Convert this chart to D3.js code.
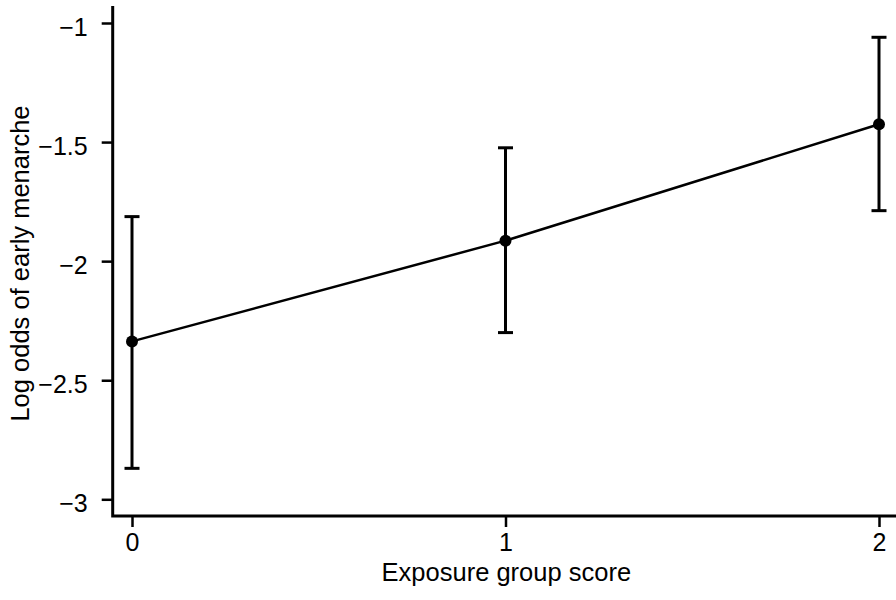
<!DOCTYPE html>
<html>
<head>
<meta charset="utf-8">
<script src="https://cdn.jsdelivr.net/npm/d3@7"></script>
<style>
  html, body { margin: 0; padding: 0; background: #fff; }
  svg { display: block; font-family: "Liberation Sans", Arial, sans-serif; }
</style>
</head>
<body>
<div id="chart"></div>
<script>
// data
const scores = [0, 1, 2];
const estimates = [-2.337, -1.914, -1.425];
const lowerCI = [-2.870, -2.300, -1.788];
const upperCI = [-1.813, -1.524, -1.060];
const xTicks = [0, 1, 2];
const yTicks = [-3, -2.5, -2, -1.5, -1];

const width = 896;
const height = 600;
// plot frame
const frame = { left: 112.7, top: 6, right: 896, bottom: 516 };

const rows = scores.map((s, i) => ({
  score: s,
  est: estimates[i],
  lo: lowerCI[i],
  hi: upperCI[i],
}));

const x = d3.scaleLinear().domain([0, 2]).range([132, 879]);
const y = d3.scaleLinear().domain([-3, -1]).range([499.3, 23]);

const svg = d3
  .select("#chart")
  .append("svg")
  .attr("width", width)
  .attr("height", height);

// axes (ticks + labels)
const xAxis = svg
  .append("g")
  .attr("transform", `translate(0,${frame.bottom})`)
  .call(
    d3.axisBottom(x).tickValues(xTicks).tickFormat(d3.format("")).tickSize(11).tickPadding(6)
  );

const yAxis = svg
  .append("g")
  .attr("transform", `translate(${frame.left},0)`)
  .call(
    d3.axisLeft(y).tickValues(yTicks).tickFormat(d3.format("")).tickSize(11).tickPadding(14)
  );

[xAxis, yAxis].forEach((g) => {
  g.select(".domain").remove();
  g.selectAll(".tick line").attr("stroke", "#000").attr("stroke-width", 2.5);
  g.selectAll(".tick text")
    .attr("fill", "#000")
    .style("font-size", "25px")
    .style("font-family", '"Liberation Sans", Arial, sans-serif');
});
yAxis.selectAll(".tick text").attr("dy", "0.48em");

// axis lines
svg
  .append("path")
  .attr("d", `M${frame.left},${frame.top}V${frame.bottom}H${frame.right}`)
  .attr("fill", "none")
  .attr("stroke", "#000")
  .attr("stroke-width", 3);

// error bars
const capHalf = 7.5;
const bars = svg.append("g").attr("stroke", "#000").attr("stroke-width", 3);
bars
  .selectAll(".whisker")
  .data(rows)
  .enter()
  .append("line")
  .attr("x1", (d) => x(d.score))
  .attr("x2", (d) => x(d.score))
  .attr("y1", (d) => y(d.lo))
  .attr("y2", (d) => y(d.hi));
bars
  .selectAll(".cap-hi")
  .data(rows)
  .enter()
  .append("line")
  .attr("x1", (d) => x(d.score) - capHalf)
  .attr("x2", (d) => x(d.score) + capHalf)
  .attr("y1", (d) => y(d.hi))
  .attr("y2", (d) => y(d.hi));
bars
  .selectAll(".cap-lo")
  .data(rows)
  .enter()
  .append("line")
  .attr("x1", (d) => x(d.score) - capHalf)
  .attr("x2", (d) => x(d.score) + capHalf)
  .attr("y1", (d) => y(d.lo))
  .attr("y2", (d) => y(d.lo));

// connecting line
const line = d3
  .line()
  .x((d) => x(d.score))
  .y((d) => y(d.est));
svg
  .append("path")
  .datum(rows)
  .attr("d", line)
  .attr("fill", "none")
  .attr("stroke", "#000")
  .attr("stroke-width", 2.5);

// points
svg
  .selectAll(".dot")
  .data(rows)
  .enter()
  .append("circle")
  .attr("cx", (d) => x(d.score))
  .attr("cy", (d) => y(d.est))
  .attr("r", 6)
  .attr("fill", "#000");

// axis titles
svg
  .append("text")
  .attr("x", (frame.left + frame.right) / 2 + 2)
  .attr("y", 581)
  .attr("text-anchor", "middle")
  .style("font-size", "25.5px")
  .text("Exposure group score");

svg
  .append("text")
  .attr("transform", "rotate(-90)")
  .attr("x", -263.5)
  .attr("y", 28.5)
  .attr("text-anchor", "middle")
  .style("font-size", "25.5px")
  .text("Log odds of early menarche");
</script>
</body>
</html>
